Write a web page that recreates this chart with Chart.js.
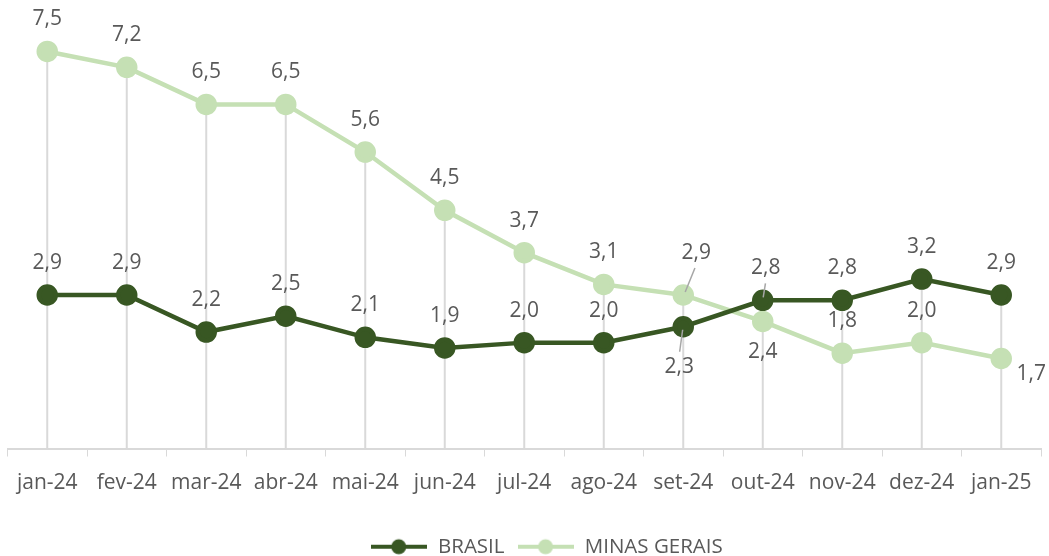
<!DOCTYPE html>
<html>
<head>
<meta charset="utf-8">
<script src="https://cdn.jsdelivr.net/npm/chart.js@4.4.1/dist/chart.umd.min.js"></script>
<style>
  html, body { margin: 0; padding: 0; background: #fff; }
  #wrap { width: 1049px; height: 556px; }
</style>
</head>
<body>
<div id="wrap"><canvas id="myChart"></canvas></div>
<script>
const months = ['jan-24', 'fev-24', 'mar-24', 'abr-24', 'mai-24', 'jun-24', 'jul-24', 'ago-24', 'set-24', 'out-24', 'nov-24', 'dez-24', 'jan-25'];
const brasil = [2.9, 2.9, 2.2, 2.5, 2.1, 1.9, 2.0, 2.0, 2.3, 2.8, 2.8, 3.2, 2.9];
const minasGerais = [7.5, 7.2, 6.5, 6.5, 5.6, 4.5, 3.7, 3.1, 2.9, 2.4, 1.8, 2.0, 1.7];

const darkGreen = '#385723';
const lightGreen = '#c5e0b4';
const textColor = '#595959';
const fontFamily = '"Open Sans", sans-serif';

// where each data label goes, relative to its point: [dx, dy, leader line?]
const labelPlace = {
  0: months.map((m, i) => i == 8 ? [-4, 40, true] : (i == 9 ? [3, -32, true] : [0, -32, false])),
  1: months.map((m, i) => {
    if (i == 8) return [13, -42, true];
    if (i == 9) return [0, 31, false];
    if (i == 12) return [30, 16, false];
    return [0, -32, false];
  })
};

function legendImage(color) {
  let c = document.createElement('canvas');
  c.width = 56; c.height = 18;
  let x = c.getContext('2d');
  x.strokeStyle = color;
  x.lineWidth = 4;
  x.beginPath(); x.moveTo(0, 9); x.lineTo(56, 9); x.stroke();
  x.fillStyle = color;
  x.beginPath(); x.arc(28, 9, 7.5, 0, Math.PI * 2); x.fill();
  return c;
}

const dropLines = {
  id: 'dropLines',
  beforeDatasetsDraw(chart) {
    let ctx = chart.ctx;
    let xs = chart.scales.x, ys = chart.scales.y;
    ctx.save();
    ctx.strokeStyle = '#d9d9d9';
    ctx.lineWidth = 2;
    for (let i = 0; i < months.length; i++) {
      let top = Math.max(brasil[i], minasGerais[i]);
      let x = xs.getPixelForValue(i);
      ctx.beginPath();
      ctx.moveTo(x, ys.getPixelForValue(top));
      ctx.lineTo(x, ys.getPixelForValue(0));
      ctx.stroke();
    }
    ctx.restore();
  }
};

const dataLabels = {
  id: 'dataLabels',
  afterDatasetsDraw(chart) {
    let ctx = chart.ctx;
    ctx.save();
    ctx.font = '21px ' + fontFamily;
    ctx.fillStyle = textColor;
    ctx.textAlign = 'center';
    ctx.textBaseline = 'middle';
    chart.data.datasets.forEach((ds, d) => {
      chart.getDatasetMeta(d).data.forEach((pt, i) => {
        let p = labelPlace[d][i];
        let lx = pt.x + p[0], ly = pt.y + p[1];
        if (p[2]) {
          ctx.strokeStyle = '#a6a6a6';
          ctx.lineWidth = 1.5;
          ctx.beginPath();
          let dir = p[1] < 0 ? 1 : -1;
          ctx.moveTo(lx - p[0] * 0.1, ly + dir * 15);
          ctx.lineTo(pt.x + p[0] * 0.15, pt.y - dir * 3);
          ctx.stroke();
        }
        ctx.fillText(ds.data[i].toFixed(1).replace('.', ','), lx, ly);
      });
    });
    ctx.restore();
  }
};

// the legend sits a bit right of centre in the original
const legendShift = {
  id: 'legendShift',
  afterLayout(chart) {
    chart.legend.left += 22;
    chart.legend.right += 22;
  }
};

new Chart(document.getElementById('myChart'), {
  type: 'line',
  data: {
    labels: months,
    datasets: [
      { label: 'BRASIL', data: brasil, borderColor: darkGreen, backgroundColor: darkGreen, borderWidth: 4.5, pointRadius: 8.5, pointHoverRadius: 8.5 },
      { label: 'MINAS GERAIS', data: minasGerais, borderColor: lightGreen, backgroundColor: lightGreen, borderWidth: 4.5, pointRadius: 8.5, pointHoverRadius: 8.5 }
    ]
  },
  options: {
    responsive: true,
    maintainAspectRatio: false,
    animation: false,
    layout: { autoPadding: false, padding: { top: 25, left: 7.5, right: 8, bottom: -11 } },
    plugins: {
      tooltip: { enabled: false },
      legend: {
        position: 'bottom',
        labels: {
          color: textColor,
          font: { family: fontFamily, size: 20.5 },
          usePointStyle: true,
          pointStyleWidth: 58,
          padding: 12,
          generateLabels(chart) {
            return chart.data.datasets.map((ds, i) => ({
              text: ds.label,
              fontColor: textColor,
              pointStyle: legendImage(ds.borderColor),
              datasetIndex: i,
              lineWidth: 0,
              strokeStyle: 'transparent',
              fillStyle: 'transparent'
            }));
          }
        }
      }
    },
    scales: {
      x: {
        offset: true,
        grid: { drawOnChartArea: false, drawTicks: true, tickLength: 8, color: '#d9d9d9', offset: true },
        border: { color: '#d9d9d9', width: 2 },
        ticks: { color: textColor, font: { family: fontFamily, size: 21 }, padding: 14, maxRotation: 0, autoSkip: false },
        afterFit(scale) { scale.height = 76; }
      },
      y: { display: false, min: 0, max: 8 }
    }
  },
  plugins: [dropLines, dataLabels, legendShift]
});
</script>
</body>
</html>
